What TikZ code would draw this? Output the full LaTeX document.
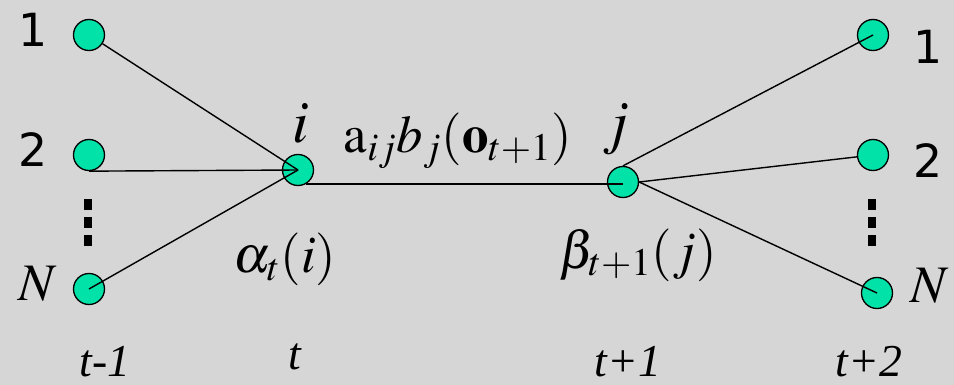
\documentclass[tikz,border=0pt]{standalone}
\usepackage{mathptmx}
\usepackage{fontspec}
\setmainfont{Liberation Serif}
\newfontfamily\numfont{DejaVu Sans}
\usetikzlibrary{positioning, calc}
\definecolor{marble}{RGB}{214,214,214}
\definecolor{mint}{RGB}{0,226,168}

\begin{document}
\begin{tikzpicture}[
    x=0.02cm, y=-0.02cm,
    st/.style={
        circle, draw, fill=mint,
        minimum size=0.62cm, inner sep=0pt,
        line width=0.75pt
    },
    lnk/.style={line width=0.8pt},
    num/.style={anchor=base, inner sep=0pt, font=\numfont\fontsize{26}{30}\selectfont},
    lbl/.style={anchor=base, inner sep=0pt, font=\fontsize{30}{34}\selectfont},
    tim/.style={anchor=base, inner sep=0pt, font=\itshape\fontsize{26}{30}\selectfont},
    vdots/.style={line width=4.5pt, dash pattern=on 6.3pt off 4pt}
]
\fill[marble] (0,0) rectangle (954,385);
\useasboundingbox (0,0) rectangle (954,385);

% states at t-1
\node[st] (l1) at (89,35)  {};
\node[st] (l2) at (89,155) {};
\node[st] (lN) at (89,289) {};
% states i and j
\node[st] (i)  at (298,170) {};
\node[st] (j)  at (623,182) {};
% states at t+2
\node[st] (r1) at (873,35)  {};
\node[st] (r2) at (873,155) {};
\node[st] (rN) at (877,293) {};

\draw[lnk] (l1) -- (i.center);
\draw[lnk] (l2.south) -- (i.center);
\draw[lnk] (lN.center) -- (i.center);
\draw[lnk] (i.-60) -- (i.-60 -| j);
\draw[lnk] (j.north) -- (r1.center);
\draw[lnk] (j.east) -- (r2);
\draw[lnk] (j.east) -- (rN.center);

\draw[vdots] (88,199) -- (88,246);
\draw[vdots] (872,199) -- (872,246);

% state numbers
\node[num] (nl1) at (33,47)  {1};
\node[num] (nl2) at (33,167) {2};
\node[lbl] (nlN) at (38,300) {$N$};
\node[num] (nr1) at (928,64)  {1};
\node[num] (nr2) at (928,177) {2};
\node[lbl] (nrN) at (930,302) {$N$};

\node[lbl, font=\fontsize{34}{38}\selectfont] (ti) at (301,143) {$i$};
\node[lbl, font=\fontsize{34}{38}\selectfont] (tj) at (616,143) {$j$};
\node[lbl] (aij) at (458,153) {$\mathrm{a}_{ij}b_j(\mathbf{o}_{t+1})$};
\node[lbl] (alpha) at (285,273) {$\alpha_t(i)$};
\node[lbl] (beta) at (638,268) {$\beta_{t+1}(j)$};

% time steps
\node[tim] (t0) at (105,376) {t-1};
\node[tim] (t1) at (295,369) {t};
\node[tim] (t2) at (628,376) {t+1};
\node[tim] (t3) at (869,376) {t+2};
\end{tikzpicture}
\end{document}
